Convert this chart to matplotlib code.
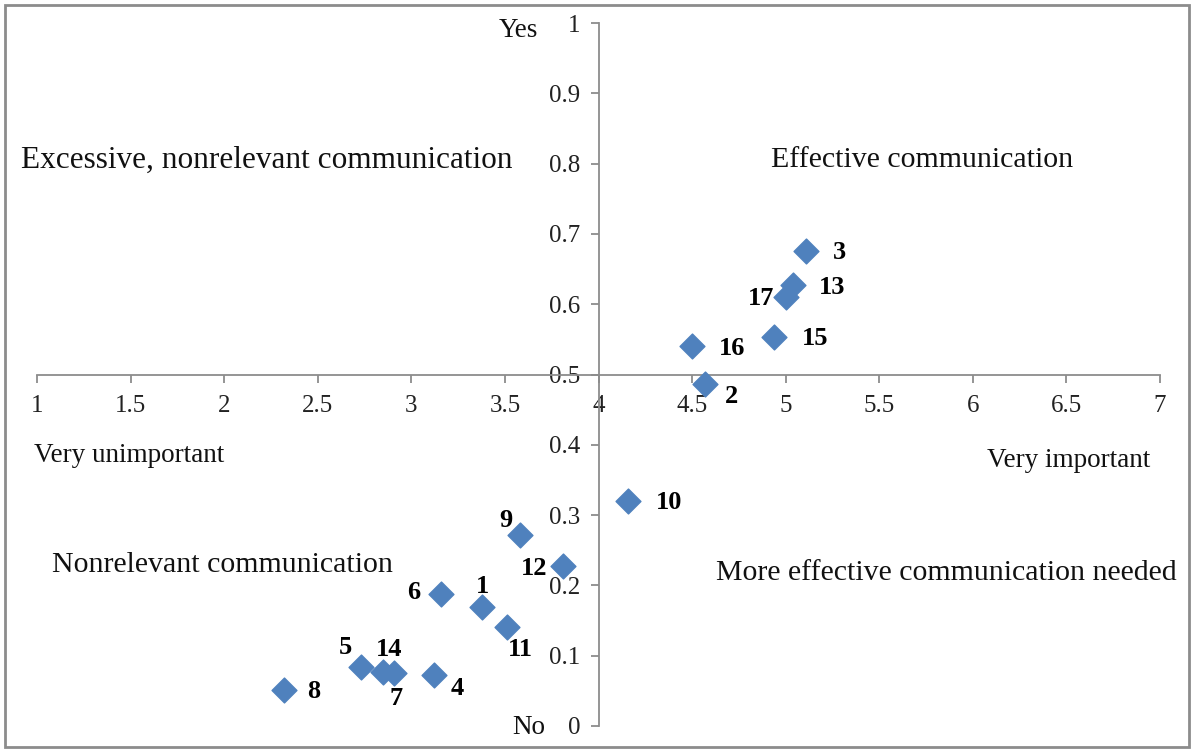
import matplotlib.pyplot as plt
import numpy as np

plt.rcParams['font.family'] = ['Liberation Serif', 'DejaVu Serif']

# item number, importance (x), share answering "yes" (y)
items = ['3', '13', '17', '15', '16', '2', '10', '9', '12', '6', '1', '11', '5', '14', '7', '4', '8']
importance = [5.11, 5.04, 5.00, 4.94, 4.50, 4.57, 4.16, 3.58, 3.81, 3.16, 3.38, 3.51, 2.73, 2.85, 2.91, 3.12, 2.32]
yes_share = [0.676, 0.627, 0.610, 0.553, 0.541, 0.486, 0.320, 0.272, 0.228, 0.188, 0.169, 0.141, 0.084, 0.077, 0.075, 0.073, 0.051]

# label offsets (points) from each marker
label_offsets = [(24, -1), (28, -2), (-18, -1), (29, -1), (29, -2), (19, -9), (29, -1), (-10, 10),
                 (-21, -2), (-20, 1), (0, 15), (10, -16), (-11, 14), (4, 16), (1, -18), (17, -10), (21, -1)]

fig = plt.figure(figsize=(11.94, 7.5), dpi=100)
ax = fig.add_axes([37 / 1194, 24 / 750, 1123 / 1194, 703 / 750])

ax.scatter(importance, yes_share, marker='D', s=160, color='#4F81BD', zorder=3)

for name, x, y, off in zip(items, importance, yes_share, label_offsets):
    ax.annotate(name, (x, y), xytext=off, textcoords='offset points',
                ha='center', va='center', fontsize=19, fontweight='bold')

ax.set_xlim(1, 7)
ax.set_ylim(0, 1)
ax.set_xticks(np.arange(1, 7.01, 0.5))
ax.set_xticklabels(['1', '1.5', '2', '2.5', '3', '3.5', '4', '4.5', '5', '5.5', '6', '6.5', '7'])
ax.set_yticks(np.arange(0, 1.01, 0.1))
ax.set_yticklabels(['0', '0.1', '0.2', '0.3', '0.4', '0.5', '0.6', '0.7', '0.8', '0.9', '1'])

ax.spines['left'].set_position(('data', 4))
ax.spines['bottom'].set_position(('data', 0.5))
ax.spines['top'].set_visible(False)
ax.spines['right'].set_visible(False)
for s in ['left', 'bottom']:
    ax.spines[s].set_color('#8c8c8c')
    ax.spines[s].set_linewidth(1.3)
ax.tick_params(colors='#8c8c8c', length=6, width=1.3, labelsize=18, labelcolor='#222222')
ax.tick_params(axis='x', pad=9)
ax.tick_params(axis='y', pad=7)
ax.patch.set_alpha(0)

txt = dict(color='#111111', ha='center', va='center')
ax.text(2.23, 0.805, 'Excessive, nonrelevant communication', fontsize=22.5, **txt)
ax.text(5.73, 0.805, 'Effective communication', fontsize=21.5, **txt)
ax.text(1.99, 0.229, 'Nonrelevant communication', fontsize=21.5, **txt)
ax.text(5.86, 0.218, 'More effective communication needed', fontsize=21.5, **txt)
ax.text(1.49, 0.385, 'Very unimportant', fontsize=19.5, **txt)
ax.text(6.51, 0.377, 'Very important', fontsize=19.5, **txt)
ax.text(3.57, 0.989, 'Yes', fontsize=19.5, **txt)
ax.text(3.63, -0.002, 'No', fontsize=19.5, **txt)

fig.patches.append(plt.Rectangle((0.004, 0.004), 0.992, 0.99, transform=fig.transFigure,
                                 fill=False, edgecolor='#8c8c8c', linewidth=2))

fig.savefig('out.png', dpi=100)
